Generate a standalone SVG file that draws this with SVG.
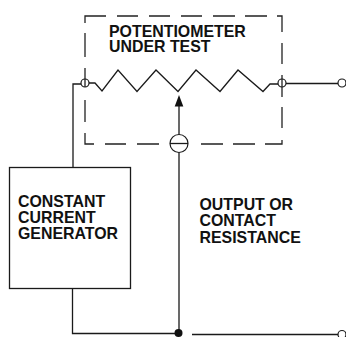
<svg xmlns="http://www.w3.org/2000/svg" width="346" height="337" viewBox="0 0 346 337">
<style>
.l{fill:none;stroke:#1a1a1a;stroke-width:1.3;stroke-linejoin:miter}
.d{fill:none;stroke:#222;stroke-width:1.3}
.c{fill:#fff;stroke:#1a1a1a;stroke-width:1.2}
.o{fill:none;stroke:#1a1a1a;stroke-width:1.2}
text{font-family:"Liberation Sans",Arial,sans-serif;font-weight:bold;font-size:15.9px;fill:#111}
</style>
<rect width="346" height="337" fill="#fff"/>
<g id="potentiometer">
<path class="d" d="M85 23V16H106M117 16H138M149 16H170M181 16H202M213 16H235M245 16H267M277 16H282V32M282 43V64M282 75V97M282 107V128M282 140V144H265M255 144H233M223 144H201M159 144H137M126 144H105M94 144H85V133M85 122V100M85 87V68M85 57V33"/>
<path class="l" d="M89 83H95L102 91L118 70L137 91.500L156 70L178 91.500L196 70L220 91.500L238 70L263 91.500L270 84H278"/>
<text x="109" y="36.500">POTENTIOMETER</text>
<text x="109" y="52">UNDER TEST</text>
</g>
<g id="generator">
<rect class="l" x="9.500" y="167.500" width="121" height="121"/>
<text x="18" y="207">CONSTANT</text>
<text x="18" y="222.500">CURRENT</text>
<text x="18" y="239">GENERATOR</text>
</g>
<g id="output-label">
<text x="199.500" y="210">OUTPUT OR</text>
<text x="199.500" y="226">CONTACT</text>
<text x="199.500" y="242.700">RESISTANCE</text>
</g>
<g id="connectors">
<path class="l" d="M81 84H73V167.500M72.500 288.500V333.500H178M179 152.500V333M179 106V134.500M192 334.500H338M286 83.500H338"/>
<path d="M179 95L183.300 106.500H174.700Z" fill="#111"/>
</g>
<g id="terminal-left"><circle class="o" cx="85" cy="83" r="4"/></g>
<g id="terminal-right"><circle class="o" cx="282" cy="83" r="4"/></g>
<g id="output-top"><circle class="c" cx="342" cy="83" r="4"/></g>
<g id="output-bottom"><circle class="c" cx="342" cy="334.500" r="4"/></g>
<g id="meter"><circle class="c" cx="179" cy="143.500" r="9"/><path class="l" d="M170 143.500H188"/></g>
<g id="junction"><circle cx="178.500" cy="333" r="4" fill="#111"/></g>
</svg>
